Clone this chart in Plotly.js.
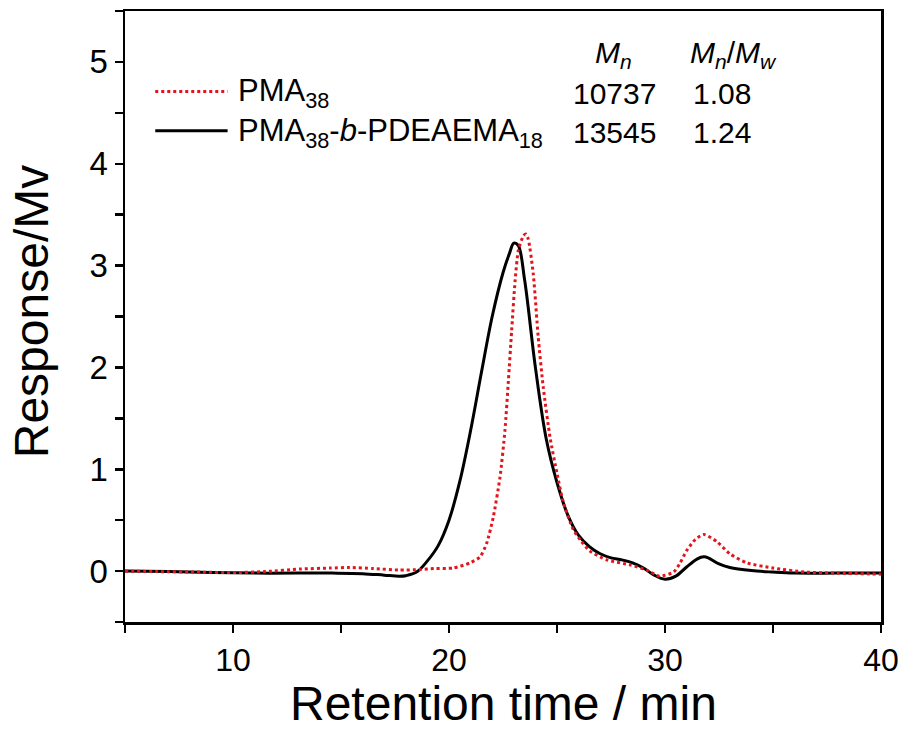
<!DOCTYPE html>
<html>
<head>
<meta charset="utf-8">
<script src="https://cdn.plot.ly/plotly-3.0.1.min.js"></script>
<style>html,body{margin:0;padding:0;background:#fff;}#chart{width:905px;height:731px;}</style>
</head>
<body>
<div id="chart"></div>
<script>
// Retention time (min) and response (Mv)
const pmaTime = [5, 6.5, 8.5, 10, 11.5, 13.1, 14.5, 15.4, 16.5, 17.7, 18.66, 19.3, 20.2, 20.97, 21.44, 21.74, 22.05, 22.36, 22.59, 22.75, 22.9, 23.06, 23.21, 23.44, 23.55, 23.67, 23.9, 24.13, 24.36, 24.68, 25.0, 25.3, 25.75, 26.1, 26.5, 27.3, 28.4, 29.15, 29.75, 30.4, 30.7, 31.0, 31.4, 31.8, 32.4, 33.0, 33.8, 35.0, 36.5, 38.0, 40];
const pmaResp = [0.0, -0.005, -0.01, -0.015, -0.005, 0.02, 0.03, 0.035, 0.025, 0.01, 0.015, 0.025, 0.03, 0.08, 0.14, 0.27, 0.53, 0.92, 1.38, 1.87, 2.36, 2.85, 3.15, 3.29, 3.31, 3.26, 2.92, 2.3, 1.81, 1.31, 0.96, 0.67, 0.41, 0.3, 0.2, 0.11, 0.06, 0.01, -0.05, -0.01, 0.08, 0.2, 0.31, 0.36, 0.29, 0.17, 0.08, 0.03, -0.01, -0.02, -0.03];

const blockTime = [5, 7, 9, 11, 13, 14.6, 16, 17, 17.7, 18.0, 18.5, 19.0, 19.5, 20.0, 20.5, 21.0, 21.5, 22.0, 22.5, 22.8, 23.0, 23.2, 23.5, 24.0, 24.5, 25.0, 25.5, 26.0, 26.5, 27.0, 27.5, 28.0, 28.5, 29.0, 29.5, 30.0, 30.5, 31.0, 31.5, 31.8, 32.0, 32.5, 33.0, 34.0, 35.0, 36.0, 38.0, 40];
const blockResp = [0.0, -0.005, -0.015, -0.02, -0.02, -0.02, -0.025, -0.04, -0.05, -0.045, -0.01, 0.1, 0.25, 0.5, 0.88, 1.38, 1.95, 2.5, 2.93, 3.12, 3.22, 3.2, 2.86, 2.0, 1.3, 0.87, 0.55, 0.35, 0.24, 0.17, 0.13, 0.11, 0.08, 0.03, -0.04, -0.08, -0.05, 0.04, 0.12, 0.14, 0.13, 0.07, 0.035, 0.005, -0.01, -0.02, -0.02, -0.02];

const seriesNames = ['PMA<sub>38</sub>', 'PMA<sub>38</sub>-<i>b</i>-PDEAEMA<sub>18</sub>'];
const mnValues = ['10737', '13545'];
const pdiValues = ['1.08', '1.24'];
const tableHeaders = ['<i>M</i><sub><i>n</i></sub>', '<i>M</i><sub><i>n</i></sub>/<i>M</i><sub><i>w</i></sub>'];
const xTitle = 'Retention time / min';
const yTitle = 'Response/Mv';

const redColor = '#e3141b';
const fontFam = 'Liberation Sans, Arial, sans-serif';

const traces = [
  {x: blockTime, y: blockResp, type: 'scatter', mode: 'lines', name: seriesNames[1],
   line: {color: '#000', width: 3, shape: 'spline', smoothing: 1}},
  {x: pmaTime, y: pmaResp, type: 'scatter', mode: 'lines', name: seriesNames[0],
   line: {color: redColor, width: 3, dash: 'dot', shape: 'spline', smoothing: 0.6}}
];

const rowY = [4.69, 4.305];
const annotations = [];
const shapes = [];
for (let i = 0; i < 2; i++) {
  annotations.push({x: 10.15, y: rowY[i], xref: 'x', yref: 'y', text: seriesNames[i], showarrow: false,
    xanchor: 'left', yanchor: 'middle', font: {family: fontFam, size: 31, color: '#000'}});
  annotations.push({x: 27.65, y: rowY[i], xref: 'x', yref: 'y', text: mnValues[i], showarrow: false,
    xanchor: 'center', yanchor: 'middle', font: {family: fontFam, size: 30, color: '#000'}});
  annotations.push({x: 32.62, y: rowY[i], xref: 'x', yref: 'y', text: pdiValues[i], showarrow: false,
    xanchor: 'center', yanchor: 'middle', font: {family: fontFam, size: 30, color: '#000'}});
}
annotations.push({x: 27.6, y: 5.07, xref: 'x', yref: 'y', text: tableHeaders[0], showarrow: false,
  xanchor: 'center', yanchor: 'middle', font: {family: fontFam, size: 30, color: '#000'}});
annotations.push({x: 33.15, y: 5.07, xref: 'x', yref: 'y', text: tableHeaders[1], showarrow: false,
  xanchor: 'center', yanchor: 'middle', font: {family: fontFam, size: 30, color: '#000'}});
// axis titles
annotations.push({x: 0.5, y: -0.1784, xref: 'paper', yref: 'paper', text: xTitle, showarrow: false, borderpad: 0,
  xanchor: 'center', yanchor: 'bottom', font: {family: fontFam, size: 48, color: '#000'}});
annotations.push({x: -0.1243, y: 0.507, xref: 'paper', yref: 'paper', text: yTitle, showarrow: false,
  textangle: -90, xanchor: 'center', yanchor: 'middle', font: {family: fontFam, size: 48, color: '#000'}});

shapes.push({type: 'line', xref: 'x', yref: 'y', x0: 6.4, x1: 9.75, y0: rowY[0] + 0.02, y1: rowY[0] + 0.02,
  line: {color: redColor, width: 3, dash: 'dot'}});
shapes.push({type: 'line', xref: 'x', yref: 'y', x0: 6.4, x1: 9.75, y0: rowY[1] + 0.02, y1: rowY[1] + 0.02,
  line: {color: '#000', width: 3}});

const layout = {
  width: 905, height: 731,
  margin: {l: 125, r: 24, t: 11, b: 109},
  paper_bgcolor: '#fff', plot_bgcolor: '#fff',
  showlegend: false,
  font: {family: fontFam, color: '#000'},
  xaxis: {
    range: [5, 40], tick0: 0, dtick: 10, ticks: 'outside', ticklen: 8, tickwidth: 2.5, tickcolor: '#000',
    showline: true, linewidth: 2.5, linecolor: '#000', mirror: true, showgrid: false, zeroline: false,
    tickfont: {family: fontFam, size: 32, color: '#000'},
    minor: {dtick: 5, ticks: 'outside', ticklen: 8, tickwidth: 2.5, tickcolor: '#000', showgrid: false}
  },
  yaxis: {
    range: [-0.5, 5.5], tick0: 0, dtick: 1, ticks: 'outside', ticklen: 8, tickwidth: 2.5, tickcolor: '#000',
    showline: true, linewidth: 2.5, linecolor: '#000', mirror: true, showgrid: false, zeroline: false,
    tickfont: {family: fontFam, size: 33, color: '#000'},
    minor: {dtick: 0.5, ticks: 'outside', ticklen: 8, tickwidth: 2.5, tickcolor: '#000', showgrid: false}
  },
  annotations: annotations,
  shapes: shapes
};

Plotly.newPlot('chart', traces, layout, {displayModeBar: false, staticPlot: true});
</script>
</body>
</html>
